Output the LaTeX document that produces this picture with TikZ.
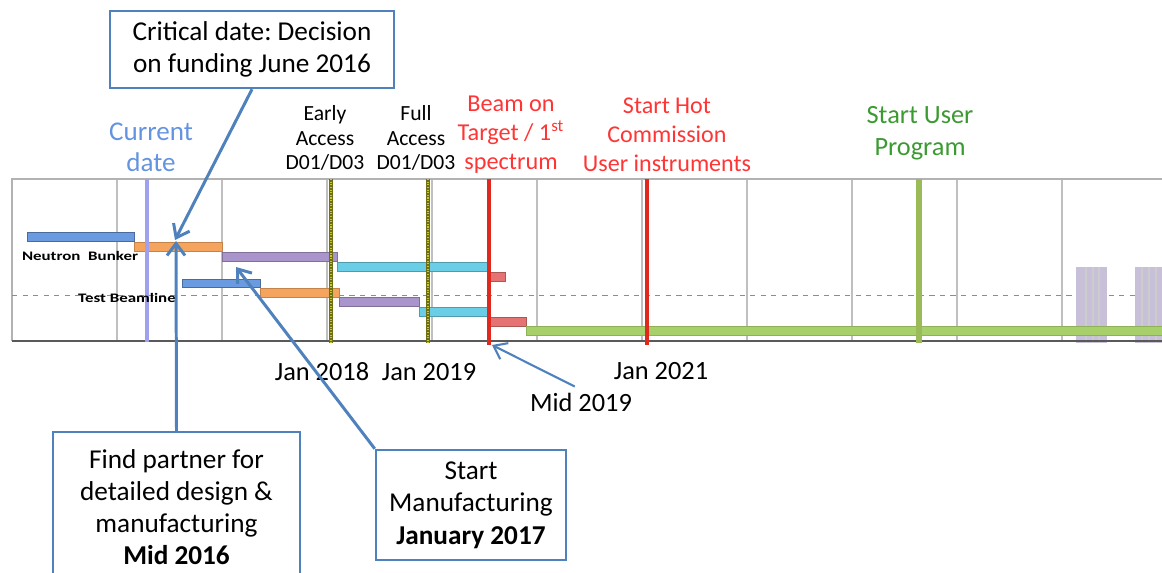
\documentclass[tikz,border=0pt]{standalone}
\usepackage{fontspec}
\setmainfont{Carlito}
\usetikzlibrary{arrows.meta}
\definecolor{BoxBlue}{HTML}{4F81BD}
\definecolor{NowBlue}{HTML}{6494E0}
\definecolor{NowLine}{HTML}{A0A0F0}
\definecolor{HotRed}{HTML}{FF3535}
\definecolor{LineRed}{HTML}{E0281E}
\definecolor{UserGreen}{HTML}{3C9A32}
\definecolor{LineGreen}{HTML}{9BBB59}
\definecolor{Olive}{HTML}{6E6E14}
\definecolor{Dots}{HTML}{C8C830}
\definecolor{BarBlue}{HTML}{6A9BE0}
\definecolor{BarOrange}{HTML}{F5A45E}
\definecolor{BarPurple}{HTML}{A994CC}
\definecolor{BarCyan}{HTML}{6ACFE6}
\definecolor{BarRed}{HTML}{E57373}
\definecolor{BarGreen}{HTML}{A8D06A}
\definecolor{Shade}{HTML}{C8C0D8}
\frenchspacing

\begin{document}
\begin{tikzpicture}[x=0.2mm,y=-0.2mm,
    notebox/.style={draw=BoxBlue,line width=1.4pt,fill=white,align=center,inner sep=0pt,
      font=\fontsize{15.5}{18.2}\selectfont},
    pointer/.style={draw=BoxBlue,line width=1.7pt,-{Straight Barb[length=2.4mm,width=3.6mm]}},
    gridline/.style={draw=black!25,line width=0.9pt},
    ganttbar/.style={line width=0.5pt},
    datelabel/.style={font=\fontsize{15}{18}\selectfont},
    access/.style={align=center,font=\fontsize{12.3}{14}\selectfont},
    rowlabel/.style={font=\fontsize{7.4}{9}\bfseries}]
    \useasboundingbox (0,0) rectangle (1162,572);
    % chart frame and grid
    \draw[gridline] (117,179) -- (117,341) (222,179) -- (222,341) (327,179) -- (327,341)
      (432,179) -- (432,341) (537,179) -- (537,341) (642,179) -- (642,341)
      (747,179) -- (747,341) (852,179) -- (852,341) (957,179) -- (957,341)
      (1062,179) -- (1062,341);
    \draw[draw=black!30,line width=1.2pt] (1162,179) -- (12,179) -- (12,341);
    \draw[black!45,dashed,line width=0.5pt] (12,295) -- (1162,295);
    % shaded blocks at the far end
    \fill[Shade] (1076,267) rectangle (1107,343);
    \fill[Shade] (1135,267) rectangle (1162,343);
    \draw[black!20,line width=0.6pt] (1086,267) -- (1086,343) (1093,267) -- (1093,343)
      (1099,267) -- (1099,343) (1142,267) -- (1142,343) (1149,267) -- (1149,343)
      (1156,267) -- (1156,343);
    % bars, first row
    \filldraw[ganttbar,fill=BarBlue,draw=BarBlue!70!black]     (27,232) rectangle (134,241);
    \filldraw[ganttbar,fill=BarOrange,draw=BarOrange!80!black] (134,242) rectangle (222,251);
    \filldraw[ganttbar,fill=BarPurple,draw=BarPurple!75!black] (222,252) rectangle (337,261);
    \filldraw[ganttbar,fill=BarCyan,draw=BarCyan!75!black]     (337,262) rectangle (488,271);
    \filldraw[ganttbar,fill=BarRed,draw=BarRed!75!black]       (489,272) rectangle (505,281);
    % bars, second row
    \filldraw[ganttbar,fill=BarBlue,draw=BarBlue!70!black]     (182,279) rectangle (260,287);
    \filldraw[ganttbar,fill=BarOrange,draw=BarOrange!80!black] (260,288) rectangle (339,297);
    \filldraw[ganttbar,fill=BarPurple,draw=BarPurple!75!black] (339,297) rectangle (419,306);
    \filldraw[ganttbar,fill=BarCyan,draw=BarCyan!75!black]     (419,307) rectangle (488,316);
    \filldraw[ganttbar,fill=BarRed,draw=BarRed!75!black]       (489,317) rectangle (526,326);
    \filldraw[ganttbar,fill=BarGreen,draw=BarGreen!85!black]   (526,326) rectangle (1162,335);
    % axis
    \draw[black!65,line width=1.6pt] (12,341) -- (1162,341);
    % milestones
    \draw[NowLine,line width=2pt] (147,179) -- (147,342);
    \draw[Olive,line width=2.8pt] (331,179) -- (331,343) (428,179) -- (428,343);
    \draw[Dots,line width=0.9pt,dash pattern=on 0.6pt off 0.9pt]
      (331,179) -- (331,343) (428,179) -- (428,343);
    \draw[LineRed,line width=2.6pt] (489,179) -- (489,345) (647,179) -- (647,345);
    \draw[LineGreen,line width=3.4pt] (919,179) -- (919,343);
    % row labels
    \node[rowlabel] (bunker) at (80,256) {\scalebox{1.3}[1]{Neutron\ \ Bunker}};
    \node[rowlabel] (beamline) at (127,298) {\scalebox{1.3}[1]{Test Beamline}};
    % milestone captions
    \node[align=center,text=NowBlue,font=\fontsize{15.4}{17.6}\selectfont] (current) at (151,147) {Current\\date};
    \node[access] (early) at (325,138) {Early\\Access\\D01/D03};
    \node[access] (full) at (416,138) {Full\\Access\\D01/D03};
    \node[align=center,text=HotRed,font=\fontsize{13.8}{16.5}\selectfont] (beam) at (511,135)
      {Beam on\\Target / 1\textsuperscript{st}\\spectrum};
    \node[align=center,text=HotRed,font=\fontsize{13.7}{16.5}\selectfont] (hot) at (667,135)
      {Start Hot\\Commission\\User instruments};
    \node[align=center,text=UserGreen,font=\fontsize{15}{18.2}\selectfont] (user) at (920,133)
      {Start User\\Program};
    % dates under the axis
    \node[datelabel] (jan18) at (322,372) {Jan 2018};
    \node[datelabel] (jan19) at (429,372) {Jan 2019};
    \node[datelabel] (jan21) at (661,371) {Jan 2021};
    \node[datelabel] (mid19) at (581,402) {Mid 2019};
    % call-out boxes
    \node[notebox,minimum width=56.8mm,minimum height=15.4mm] (critical) at (252,49.5)
      {Critical date: Decision\\on funding June 2016};
    \node[notebox,minimum width=49.4mm,minimum height=30.2mm] (partner) at (176.5,507.5)
      {Find partner for\\detailed design \&\\manufacturing\\\textbf{Mid 2016}};
    \node[notebox,minimum width=38mm,minimum height=22mm,font=\fontsize{15.5}{18.5}\selectfont] (manuf) at (471,505)
      {Start\\Manufacturing\\\textbf{January 2017}};
    % pointers
    \coordinate (funding) at (175,240);
    \coordinate (partnering) at (176,241);
    \coordinate (manufacturing) at (236,267);
    \coordinate (beamon) at (492,345);
    \draw[pointer] (critical.south) -- (funding);
    \draw[pointer] (partner.north) -- (partnering);
    \draw[pointer] (manuf.north west) -- (manufacturing);
    \draw[pointer,line width=1.2pt] (mid19.112) -- (beamon);
  \end{tikzpicture}
\end{document}
